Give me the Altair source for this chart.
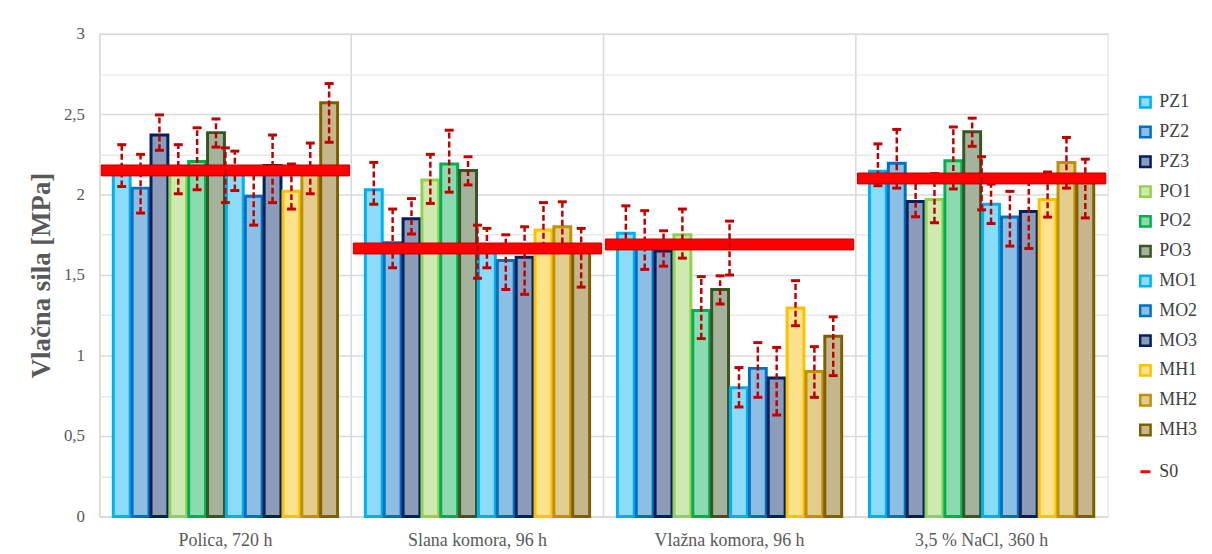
import altair as alt
import pandas as pd

groups = ["Polica, 720 h", "Slana komora, 96 h", "Vlažna komora, 96 h", "3,5 % NaCl, 360 h"]
series = ["PZ1", "PZ2", "PZ3", "PO1", "PO2", "PO3", "MO1", "MO2", "MO3", "MH1", "MH2", "MH3"]
colors = ["#00b0f0", "#0070c0", "#002060", "#92d050", "#00b050", "#375623",
          "#00b0f0", "#0070c0", "#002060", "#ffc000", "#bf9000", "#7f6000"]

val_polica = [2.14, 2.04, 2.37, 2.15, 2.205, 2.385, 2.145, 1.99, 2.18, 2.02, 2.165, 2.57]
val_slana = [2.03, 1.70, 1.85, 2.09, 2.19, 2.15, 1.665, 1.59, 1.61, 1.78, 1.80, 1.67]
val_vlazna = [1.76, 1.69, 1.65, 1.75, 1.28, 1.41, 0.80, 0.92, 0.86, 1.295, 0.90, 1.12]
val_nacl = [2.145, 2.195, 1.957, 1.97, 2.21, 2.39, 1.94, 1.86, 1.895, 1.97, 2.20, 2.10]

err_up = [0.17, 0.21, 0.125, 0.16, 0.21, 0.085, 0.125, 0.16, 0.19, 0.17, 0.155, 0.12]
err_down = [0.09, 0.155, 0.095, 0.145, 0.175, 0.09, 0.12, 0.18, 0.23, 0.11, 0.16, 0.245]

s0_values = [2.15, 1.665, 1.69, 2.10]
s0_err_up = [0.14, 0.145, 0.145, 0.135]
s0_err_down = [0.20, 0.185, 0.19, 0.195]

SERIF = "Times New Roman, Liberation Serif, serif"


def tint(hex_color, amount=0.5):
    h = hex_color.lstrip("#")
    rgb = [int(h[i:i + 2], 16) for i in (0, 2, 4)]
    mixed = [round(c * amount + 255 * (1 - amount)) for c in rgb]
    return "#" + "".join(f"{c:02x}" for c in mixed)


tints = [tint(c, 0.45) for c in colors]

rows = []
for g, vals in zip(groups, [val_polica, val_slana, val_vlazna, val_nacl]):
    for s, v, eu, ed in zip(series, vals, err_up, err_down):
        rows.append({"group": g, "series": s, "value": v, "hi": v + eu, "lo": v - ed})
df = pd.DataFrame(rows)

s0 = pd.DataFrame({
    "group": groups,
    "value": s0_values,
    "hi": [v + e for v, e in zip(s0_values, s0_err_up)],
    "lo": [v - e for v, e in zip(s0_values, s0_err_down)],
    "name": ["S0"] * 4,
})

ticks = [i * 0.25 for i in range(13)]

x_enc = alt.X(
    "group:N", sort=groups,
    scale=alt.Scale(paddingInner=0, paddingOuter=0),
    axis=alt.Axis(
        title=None, labelAngle=0, labelFont=SERIF, labelFontSize=18,
        labelColor="#595959", labelPadding=15, ticks=False,
        domainColor="#d9d9d9", domainWidth=1.5,
        grid=True, gridColor="#d9d9d9", gridWidth=1.5, bandPosition=0,
    ),
)
xoff = alt.XOffset("series:N", sort=series,
                   scale=alt.Scale(paddingInner=0.105, paddingOuter=0.737))

y_enc = alt.Y(
    "value:Q",
    scale=alt.Scale(domain=[0, 3], nice=False),
    axis=alt.Axis(
        values=ticks,
        title="Vlačna sila [MPa]", titleFont=SERIF, titleFontSize=27,
        titleFontWeight="bold", titleColor="#595959", titlePadding=8,
        labelFont=SERIF, labelFontSize=17, labelColor="#595959", labelPadding=15,
        labelExpr="datum.value % 0.5 == 0 ? replace(format(datum.value, '~g'), '.', ',') : ''",
        ticks=False, domain=False,
        gridColor={"condition": {"test": "datum.value % 0.5 != 0", "value": "#e8e8e8"},
                   "value": "#d9d9d9"},
        gridWidth=1.5,
    ),
)

legend = alt.Legend(
    title=None, orient="none", legendX=1044, legendY=60,
    symbolType="square", symbolSize=110, symbolStrokeWidth=2.5,
    labelFont=SERIF, labelFontSize=18, labelColor="#404040",
    rowPadding=8, labelOffset=5,
)

bars = alt.Chart(df).mark_bar(strokeWidth=3).encode(
    x=x_enc,
    xOffset=xoff,
    y=y_enc,
    fill=alt.Fill("series:N", sort=series,
                  scale=alt.Scale(domain=series, range=tints), legend=legend),
    stroke=alt.Stroke("series:N", sort=series,
                      scale=alt.Scale(domain=series, range=colors), legend=legend),
)

err_rule = alt.Chart(df).mark_rule(color="#c00000", strokeWidth=2.5, strokeDash=[6, 3]).encode(
    x=alt.X("group:N", sort=groups),
    xOffset=alt.XOffset("series:N", sort=series),
    y="lo:Q",
    y2="hi:Q",
)
cap_hi = alt.Chart(df).mark_tick(color="#c00000", size=9, thickness=3, opacity=1).encode(
    x=alt.X("group:N", sort=groups),
    xOffset=alt.XOffset("series:N", sort=series),
    y="hi:Q",
)
cap_lo = alt.Chart(df).mark_tick(color="#c00000", size=9, thickness=3, opacity=1).encode(
    x=alt.X("group:N", sort=groups),
    xOffset=alt.XOffset("series:N", sort=series),
    y="lo:Q",
)

s0_line = alt.Chart(s0).mark_tick(size=250, thickness=11, opacity=1,
                                  stroke="#c00000", strokeWidth=1).encode(
    x=alt.X("group:N", sort=groups),
    y="value:Q",
    color=alt.Color("name:N", scale=alt.Scale(domain=["S0"], range=["#ff0000"]),
                    legend=alt.Legend(
                        title=None, orient="none", legendX=1044, legendY=432,
                        symbolType="stroke", symbolStrokeWidth=3, symbolSize=100,
                        symbolStrokeColor="#ff0000",
                        labelFont=SERIF, labelFontSize=18, labelColor="#404040",
                        labelOffset=5,
                    )),
)
s0_rule = alt.Chart(s0).mark_rule(color="#c00000", strokeWidth=2.5, strokeDash=[6, 3]).encode(
    x=alt.X("group:N", sort=groups),
    y="lo:Q",
    y2="hi:Q",
)
s0_cap_hi = alt.Chart(s0).mark_tick(color="#c00000", size=9, thickness=3, opacity=1).encode(
    x=alt.X("group:N", sort=groups), y="hi:Q")
s0_cap_lo = alt.Chart(s0).mark_tick(color="#c00000", size=9, thickness=3, opacity=1).encode(
    x=alt.X("group:N", sort=groups), y="lo:Q")

chart = alt.layer(
    bars, err_rule, cap_hi, cap_lo, s0_line, s0_rule, s0_cap_hi, s0_cap_lo
).properties(
    width=1015, height=486,
    autosize=alt.AutoSizeParams(type="none"),
    padding={"left": 92, "top": 24, "right": 97, "bottom": 34},
).configure_view(
    fill="#f3f3f3", stroke="#d9d9d9", strokeWidth=1.5,
).configure(background="white")

chart.save("out.html", embed_options={"renderer": "svg", "actions": False})
